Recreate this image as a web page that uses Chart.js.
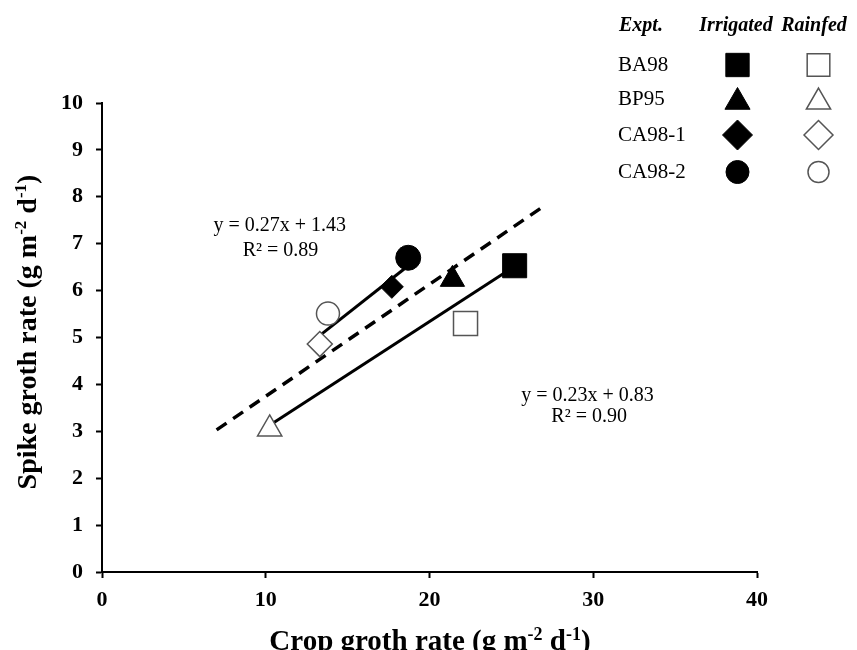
<!DOCTYPE html>
<html><head><meta charset="utf-8">
<script src="https://cdn.jsdelivr.net/npm/chart.js@4.4.1/dist/chart.umd.min.js"></script>
<style>html,body{margin:0;padding:0;background:#fff}#wrap{width:857px;height:650px;position:relative}</style>
</head><body><div id="wrap"><canvas id="c" width="857" height="650"></canvas></div>
<script>
// ---- data ----
const experiments = ['BA98', 'BP95', 'CA98-1', 'CA98-2'];
const markerShapes = ['rect', 'triangle', 'rectRot', 'circle'];
const irrigatedX = [25.2, 21.4, 17.7, 18.7];
const irrigatedY = [6.53, 6.24, 6.08, 6.70];
const rainfedX = [22.2, 10.24, 13.3, 13.8];
const rainfedY = [5.30, 3.05, 4.86, 5.51];
const dashedX = [7.0, 27.1];
const dashedY = [3.03, 7.83];
const fitUpperX = [13.25, 18.45];
const fitUpperY = [5.03, 6.46];
const fitLowerX = [10.24, 24.9];
const fitLowerY = [3.13, 6.45];
const xTicks = [0, 10, 20, 30, 40];
const yTicks = [0, 1, 2, 3, 4, 5, 6, 7, 8, 9, 10];
const fitUpperText = ['y = 0.27x + 1.43', 'R\u00b2 = 0.89'];
const fitLowerText = ['y = 0.23x + 0.83', 'R\u00b2 = 0.90'];
const legendHeaders = ['Expt.', 'Irrigated', 'Rainfed'];
const xTitleParts = [['Crop groth rate (g m', 0], ['-2', 1], [' d', 0], ['-1', 1], [')', 0]];
const yTitleParts = [['Spike groth rate (g m', 0], ['-2', 1], [' d', 0], ['-1', 1], [')', 0]];

// ---- styles ----
const SERIF = "'Liberation Serif', 'Times New Roman', serif";
const plotRadius = {rect: 17, triangle: 14, rectRot: 11.5, circle: 12.5};
const plotRadiusOpen = {rect: 17, triangle: 14, rectRot: 12.5, circle: 11.5};
const legendRadius = {rect: 16.5, triangle: 14.5, rectRot: 15, circle: 11.5};

const datasets = [];
experiments.forEach((e, i) => {
  datasets.push({
    label: e + ' irrigated', data: [{x: irrigatedX[i], y: irrigatedY[i]}],
    pointStyle: markerShapes[i], pointRadius: plotRadius[markerShapes[i]],
    backgroundColor: '#000', borderColor: '#000', borderWidth: 1, order: 1
  });
  datasets.push({
    label: e + ' rainfed', data: [{x: rainfedX[i], y: rainfedY[i]}],
    pointStyle: markerShapes[i], pointRadius: plotRadiusOpen[markerShapes[i]],
    backgroundColor: '#fff', borderColor: '#555', borderWidth: 1.5, order: 1
  });
});
function lineSet(label, xs, ys, dash) {
  return {label, data: xs.map((x, i) => ({x, y: ys[i]})), showLine: true, pointRadius: 0,
    borderColor: '#000', borderWidth: dash ? 3.5 : 3, borderDash: dash || [], order: 5, fill: false};
}
datasets.push(lineSet('overall', dashedX, dashedY, [12, 8]));
datasets.push(lineSet('fit upper', fitUpperX, fitUpperY));
datasets.push(lineSet('fit lower', fitLowerX, fitLowerY));

function drawRich(ctx, parts, size, weight, style, cx, baseline) {
  const main = `${style} ${weight} ${size}px ${SERIF}`;
  const sup = `${style} ${weight} ${Math.round(size * 0.62)}px ${SERIF}`;
  let total = 0;
  const widths = parts.map(p => { ctx.font = p[1] ? sup : main; const w = ctx.measureText(p[0]).width; total += w; return w; });
  let x = cx - total / 2;
  ctx.textAlign = 'left'; ctx.textBaseline = 'alphabetic';
  parts.forEach((p, i) => {
    ctx.font = p[1] ? sup : main;
    ctx.fillText(p[0], x, baseline - (p[1] ? size * 0.36 : 0));
    x += widths[i];
  });
}

const extras = {
  id: 'extras',
  afterDraw(chart) {
    const ctx = chart.ctx;
    const xs = chart.scales.x, ys = chart.scales.y;
    ctx.save();
    ctx.fillStyle = '#000';
    // regression labels (anchored in data units)
    ctx.font = `20px ${SERIF}`;
    ctx.textAlign = 'center'; ctx.textBaseline = 'middle';
    ctx.fillText(fitUpperText[0], xs.getPixelForValue(10.85), ys.getPixelForValue(7.39));
    ctx.fillText(fitUpperText[1], xs.getPixelForValue(10.9), ys.getPixelForValue(6.86));
    ctx.fillText(fitLowerText[0], xs.getPixelForValue(29.65), ys.getPixelForValue(3.75));
    ctx.fillText(fitLowerText[1], xs.getPixelForValue(29.75), ys.getPixelForValue(3.30));
    // legend table
    ctx.font = `italic bold 20px ${SERIF}`;
    ctx.textAlign = 'left'; ctx.textBaseline = 'alphabetic';
    ctx.fillText(legendHeaders[0], 619, 31);
    ctx.textAlign = 'center';
    ctx.fillText(legendHeaders[1], 736, 31);
    ctx.fillText(legendHeaders[2], 814, 31);
    const rowsY = [65, 99, 135, 172];
    experiments.forEach((e, i) => {
      ctx.font = `21px ${SERIF}`;
      ctx.textAlign = 'left'; ctx.textBaseline = 'middle';
      ctx.fillStyle = '#000';
      ctx.fillText(e, 618, rowsY[i]);
      const shp = markerShapes[i];
      const r = legendRadius[shp];
      const cy = rowsY[i] + (shp === 'triangle' ? 3 : 0);
      ctx.fillStyle = '#000'; ctx.strokeStyle = '#000'; ctx.lineWidth = 1;
      Chart.helpers.drawPoint(ctx, {pointStyle: shp, radius: r, rotation: 0, borderWidth: 1}, 737.5, cy);
      ctx.fillStyle = '#fff'; ctx.strokeStyle = '#555'; ctx.lineWidth = 1.5;
      Chart.helpers.drawPoint(ctx, {pointStyle: shp, radius: shp === 'circle' ? 10.5 : r - 0.5, rotation: 0, borderWidth: 1.5}, 818.5, cy);
    });
    // axis titles
    ctx.fillStyle = '#000';
    drawRich(ctx, xTitleParts, 29, 'bold', 'normal', 430, 650);
    ctx.save();
    ctx.translate(36, 332);
    ctx.rotate(-Math.PI / 2);
    drawRich(ctx, yTitleParts, 28, 'bold', 'normal', 0, 0);
    ctx.restore();
    ctx.restore();
  }
};

const tickFont = {family: SERIF, size: 22, weight: 'bold'};
new Chart(document.getElementById('c'), {
  type: 'scatter',
  data: {datasets},
  plugins: [extras],
  options: {
    responsive: false, animation: false, devicePixelRatio: 1,
    layout: {padding: {top: 103, right: 100, left: 0, bottom: 0}},
    plugins: {legend: {display: false}, tooltip: {enabled: false}},
    scales: {
      x: {
        type: 'linear', min: 0, max: 40,
        afterBuildTicks: s => { s.ticks = xTicks.map(v => ({value: v})); },
        ticks: {font: tickFont, color: '#000', padding: 9, maxRotation: 0},
        grid: {drawOnChartArea: false, drawTicks: true, tickLength: 6, tickWidth: 2, tickColor: '#000'},
        border: {display: true, color: '#000', width: 2},
        afterFit: s => { s.height = 78; }
      },
      y: {
        type: 'linear', min: 0, max: 10,
        afterBuildTicks: s => { s.ticks = yTicks.map(v => ({value: v})); },
        ticks: {font: tickFont, color: '#000', padding: 13},
        grid: {drawOnChartArea: false, drawTicks: true, tickLength: 6, tickWidth: 2, tickColor: '#000'},
        border: {display: true, color: '#000', width: 2},
        afterFit: s => { s.width = 102; }
      }
    }
  }
});
</script></body></html>
